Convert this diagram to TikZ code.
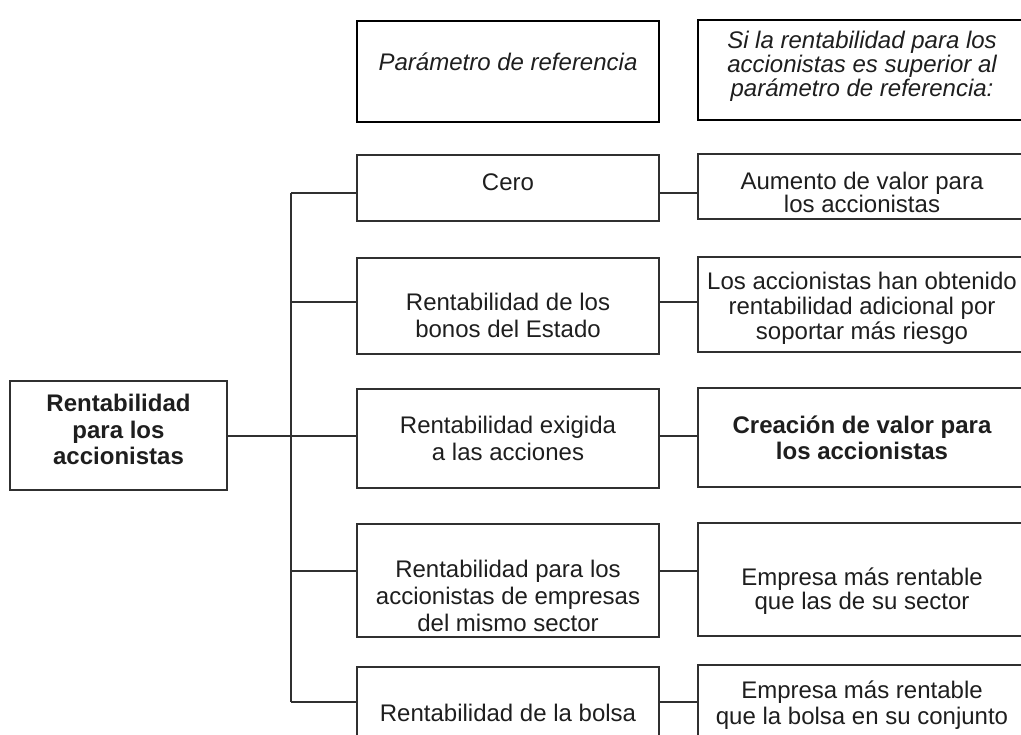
\documentclass[tikz,border=0pt]{standalone}
\usepackage{fontspec}
\setmainfont{Liberation Sans}
\usepackage{tikz}
\usetikzlibrary{positioning}
\definecolor{linegray}{HTML}{303030}
\definecolor{textgray}{HTML}{1E1E1E}

\begin{document}
\begin{tikzpicture}[x=0.5pt,y=-0.5pt,
		box/.style={draw=linegray,line width=0.7pt,inner sep=0pt},
		midbox/.style={box,minimum width=151pt},
		resbox/.style={box,minimum width=164pt},
		headbox/.style={draw=black,line width=1pt},
		mid/.style={align=center,inner sep=0pt,text=textgray,font=\fontsize{12}{13.5}\selectfont},
		res/.style={mid,font=\fontsize{12}{12}\selectfont}]
		\useasboundingbox (0,0) rectangle (1021,734);
		\clip (0,0) rectangle (1021,734);
		% column headings
		\node[midbox,headbox,minimum height=50.5pt,
			label={[mid,name=param-t,yshift=5pt,font=\fontsize{12}{13.5}\selectfont\itshape]center:{Parámetro de referencia}}] (param) at (508,71.5) {};
		\node[resbox,headbox,minimum height=50pt,
			label={[res,name=cond-t,yshift=2pt,font=\fontsize{12}{12}\selectfont\itshape]center:{Si la rentabilidad para los\\accionistas es superior al\\parámetro de referencia:}}] (cond) at (862,70) {};
		% root
		\node[box,minimum width=108.5pt,minimum height=54.5pt,
			label={[mid,name=root-t,yshift=3pt,font=\fontsize{12}{13.3}\selectfont\bfseries]center:{Rentabilidad\\para los\\accionistas}}] (root) at (118.5,435.5) {};
		% reference values
		\node[midbox,minimum height=33pt,label={[mid,name=cero-t,yshift=3pt]center:{Cero}}] (cero) at (508,188) {};
		\node[midbox,minimum height=48pt,label={[mid,name=bonos-t,yshift=-4.5pt]center:{Rentabilidad de los\\bonos del Estado}}] (bonos) at (508,306) {};
		\node[midbox,minimum height=49.5pt,label={[mid,name=exig-t]center:{Rentabilidad exigida\\a las acciones}}] (exig) at (508,438.5) {};
		\node[midbox,minimum height=56.5pt,label={[mid,name=sect-t,yshift=-7.5pt]center:{Rentabilidad para los\\accionistas de empresas\\del mismo sector}}] (sect) at (508,580.5) {};
		\node[midbox,minimum height=46pt,label={[mid,name=bolsa-t]center:{Rentabilidad de la bolsa}}] (bolsa) at (508,713) {};
		% results
		\node[resbox,minimum height=32.5pt,label={[res,name=aum-t,yshift=-3pt,font=\fontsize{12}{11.5}\selectfont]center:{Aumento de valor para\\los accionistas}}] (aum) at (862,186.5) {};
		\node[resbox,minimum height=47.5pt,label={[res,name=riesgo-t,yshift=-2pt,font=\fontsize{12}{12.5}\selectfont]center:{Los accionistas han obtenido\\rentabilidad adicional por\\soportar más riesgo}}] (riesgo) at (862,304.5) {};
		\node[resbox,minimum height=49.5pt,label={[res,name=crea-t,font=\fontsize{12}{13}\selectfont\bfseries]center:{Creación de valor para\\los accionistas}}] (crea) at (862,437.5) {};
		\node[resbox,minimum height=56.5pt,label={[res,name=msect-t,yshift=-6pt]center:{Empresa más rentable\\que las de su sector}}] (msect) at (862,579.5) {};
		\node[resbox,minimum height=40pt,label={[res,name=mbolsa-t,font=\fontsize{12}{13}\selectfont]center:{Empresa más rentable\\que la bolsa en su conjunto}}] (mbolsa) at (862,705) {};
		% connectors
		\coordinate (t1) at (291,193);
		\coordinate (t2) at (291,302);
		\coordinate (t3) at (291,436);
		\coordinate (t4) at (291,571);
		\coordinate (t5) at (291,702);
		\begin{scope}[draw=linegray,line width=0.7pt]
			\draw (t1) -- (t5);
			\draw (root.east |- t3) -- (exig.west |- t3);
			\draw (t1) -- (cero.west |- t1);
			\draw (t2) -- (bonos.west |- t2);
			\draw (t4) -- (sect.west |- t4);
			\draw (t5) -- (bolsa.west |- t5);
			\draw (cero.east |- t1) -- (aum.west |- t1);
			\draw (bonos.east |- t2) -- (riesgo.west |- t2);
			\draw (exig.east |- t3) -- (crea.west |- t3);
			\draw (sect.east |- t4) -- (msect.west |- t4);
			\draw (bolsa.east |- t5) -- (mbolsa.west |- t5);
		\end{scope}
	\end{tikzpicture}
\end{document}
